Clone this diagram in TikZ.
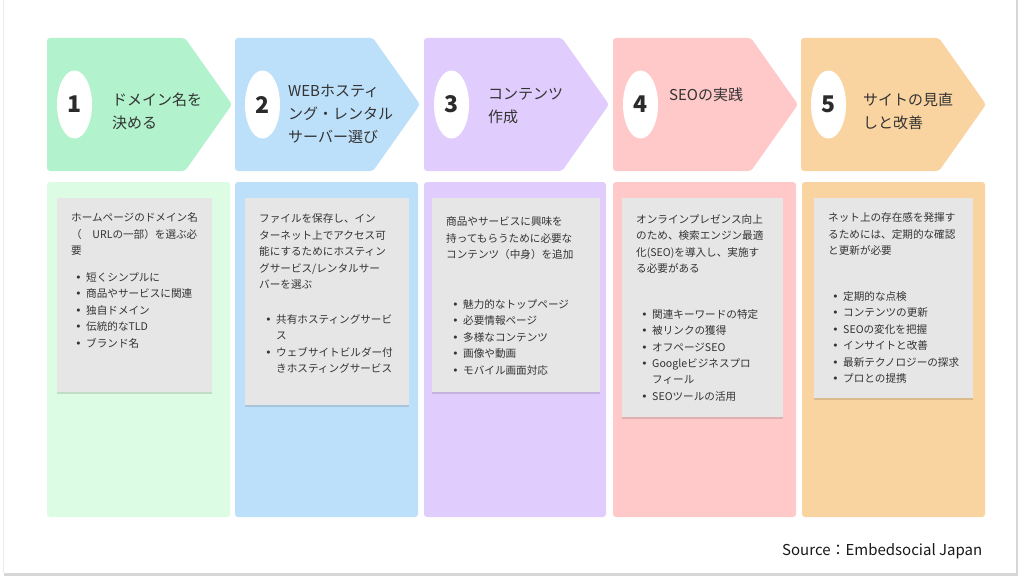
\documentclass[tikz,border=0pt]{standalone}
\usepackage{fontspec}
\setmainfont{Noto Sans CJK JP}
\newfontfamily\dejavu{DejaVu Sans}
\usetikzlibrary{shadows,shapes.geometric}
\definecolor{txt}{HTML}{333333}
\definecolor{numc}{HTML}{2B2B2B}
\definecolor{cardgray}{HTML}{E6E6E6}
\definecolor{gA}{HTML}{B2F2CC}
\definecolor{gP}{HTML}{DCFCE4}
\definecolor{bA}{HTML}{BDE0FA}
\definecolor{pA}{HTML}{E0CCFD}
\definecolor{rA}{HTML}{FFC9C9}
\definecolor{oA}{HTML}{FAD4A0}
\newcommand\bul{\llap{{\dejavu •}\hspace{4.6pt}}}
\newcommand\stepshape[2]{%
  \fill[#2, rounded corners=3pt] (#1,38) -- ({#1+138},38) -- ({#1+185},104.5) -- ({#1+138},171) -- (#1,171) -- cycle;}
\begin{document}
\begin{tikzpicture}[x=1pt,y=-1pt,
  card/.style={fill=cardgray, drop shadow={shadow xshift=0pt,shadow yshift=-1.8pt,opacity=0.12,fill=black}},
  body/.style={font=\fontsize{10.6}{16.4}\selectfont, text=txt, align=left, anchor=base west, inner sep=0pt},
  ttl/.style={font=\fontsize{15}{23}\selectfont, text=txt, align=left, anchor=base west, inner sep=0pt},
  numbox/.style={ellipse, fill=white, minimum width=35pt, minimum height=68pt, inner sep=0pt,
     font=\fontsize{23}{23}\selectfont\bfseries, text=numc}
]
\useasboundingbox (0,0) rectangle (1024,578);
\fill[white] (0,0) rectangle (1024,578);
% outer card with shadow
\fill[black!16] (4,0) rectangle (1018,575.5);
\fill[white] (3,0) rectangle (1016,573);
\draw[black!8, line width=0.6pt] (3,0) -- (3,573);

% top arrows
\stepshape{47}{gA}
\stepshape{235}{bA}
\stepshape{424}{pA}
\stepshape{613}{rA}
\stepshape{801}{oA}

\node[numbox] (n1) at (74.5,104.5) {1};
\node[numbox] (n2) at (262.5,104.5) {2};
\node[numbox] (n3) at (451.5,104.5) {3};
\node[numbox] (n4) at (640.5,104.5) {4};
\node[numbox] (n5) at (828.5,104.5) {5};

% titles (anchor = baseline of last line)
\node[ttl] (t1) at (112,128.2) {ドメイン名を\\決める};
\node[ttl] (t2) at (288,142.5) {WEBホスティ\\ング・レンタル\\サーバー選び};
\node[ttl] (t3) at (488,122) {コンテンツ\\作成};
\node[ttl] (t4) at (669,100.5) {SEOの実践};
\node[ttl] (t5) at (863,128.2) {サイトの見直\\しと改善};

% panels
\fill[gP, rounded corners=3pt] (47,182) rectangle (230,517);
\fill[bA, rounded corners=3pt] (235,182) rectangle (418,517);
\fill[pA, rounded corners=3pt] (424,182) rectangle (606,517);
\fill[rA, rounded corners=3pt] (613,182) rectangle (796,517);
\fill[oA, rounded corners=3pt] (802,182) rectangle (985,517);

% cards
\fill[card] (57,198) rectangle (212,392);
\fill[card] (245,198) rectangle (409,405);
\fill[card] (432,198) rectangle (600,392);
\fill[card] (622,198) rectangle (783,417);
\fill[card] (814,198) rectangle (973,398);

% card texts (anchor = baseline of last line)
\node[body] (c1a) at (71,254.5) {ホームページのドメイン名\\（\quad URLの一部）を選ぶ必\\要};
\node[body] (c1b) at (86,347) {\bul 短くシンプルに\\\bul 商品やサービスに関連\\\bul 独自ドメイン\\\bul 伝統的なTLD\\\bul ブランド名};

\node[body] (c2a) at (259,288.5) {ファイルを保存し、イン\\ターネット上でアクセス可\\能にするためにホスティン\\グサービス/レンタルサー\\バーを選ぶ};
\node[body] (c2b) at (276,372.5) {\bul 共有ホスティングサービ\\ス\\\bul ウェブサイトビルダー付\\きホスティングサービス};

\node[body] (c3a) at (446,258.5) {商品やサービスに興味を\\持ってもらうために必要な\\コンテンツ（中身）を追加};
\node[body] (c3b) at (463,374) {\bul 魅力的なトップページ\\\bul 必要情報ページ\\\bul 多様なコンテンツ\\\bul 画像や動画\\\bul モバイル画面対応};

\node[body] (c4a) at (636,272.5) {オンラインプレゼンス向上\\のため、検索エンジン最適\\化(SEO)を導入し、実施す\\る必要がある};
\node[body] (c4b) at (652,400.2) {\bul 関連キーワードの特定\\\bul 被リンクの獲得\\\bul オフページSEO\\\bul Googleビジネスプロ\\フィール\\\bul SEOツールの活用};

\node[body] (c5a) at (828,254.5) {ネット上の存在感を発揮す\\るためには、定期的な確認\\と更新が必要};
\node[body] (c5b) at (843,382.5) {\bul 定期的な点検\\\bul コンテンツの更新\\\bul SEOの変化を把握\\\bul インサイトと改善\\\bul 最新テクノロジーの探求\\\bul プロとの提携};

\node[font=\fontsize{15}{16}\selectfont, text=black!90, anchor=base west, inner sep=0pt] (src) at (782,555.5) {Source：Embedsocial Japan};
\end{tikzpicture}
\end{document}
